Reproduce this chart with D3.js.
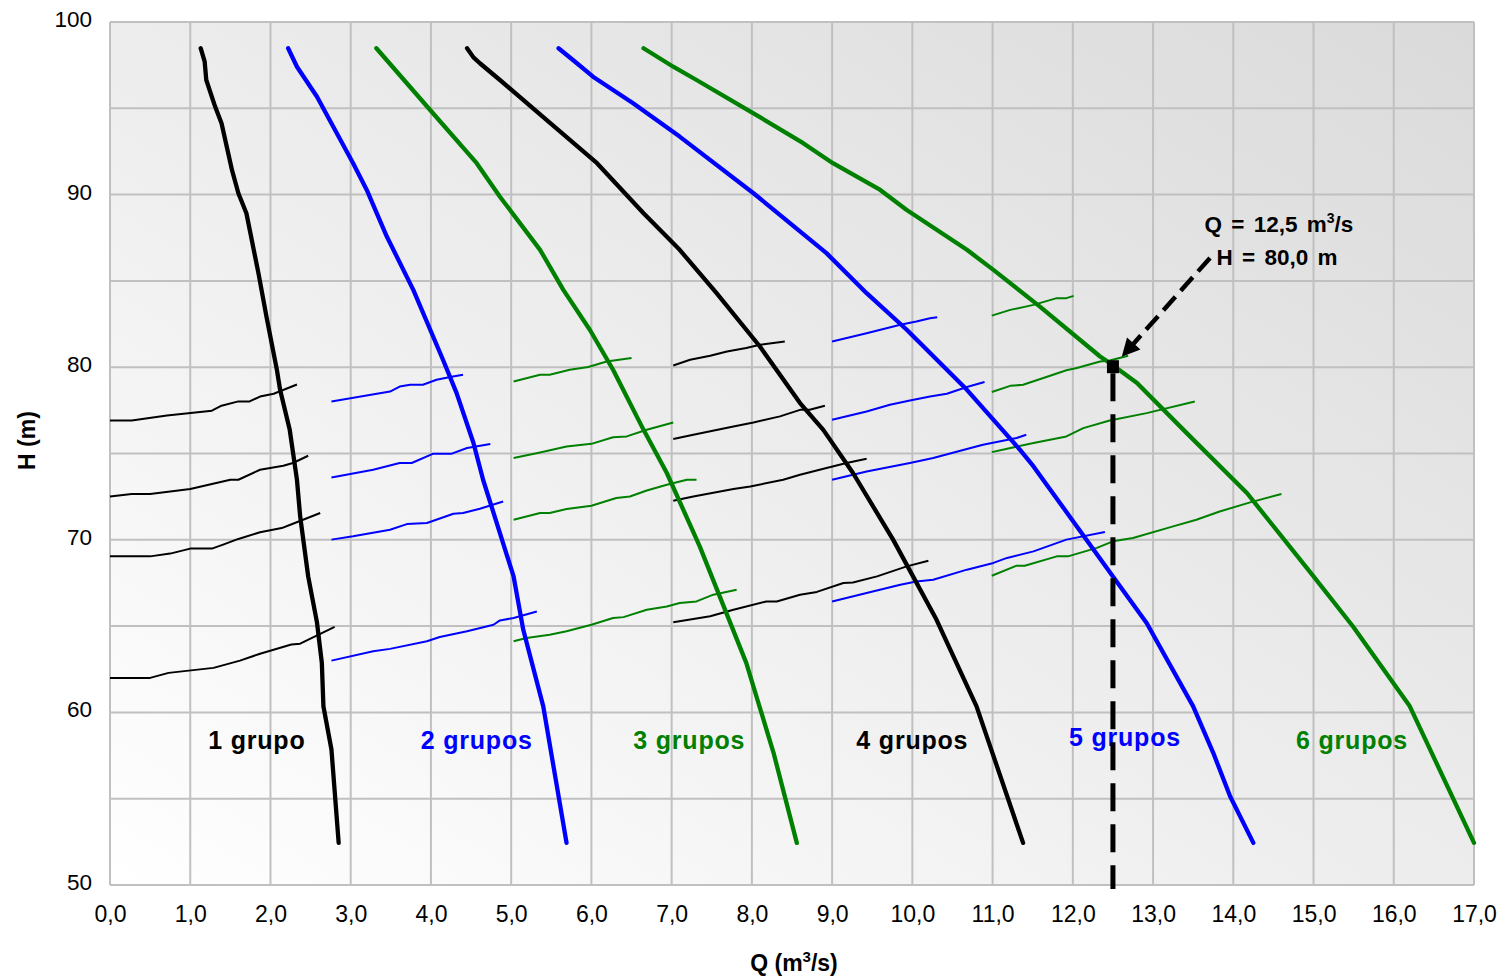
<!DOCTYPE html>
<html><head><meta charset="utf-8">
<script src="https://cdn.jsdelivr.net/npm/d3@7"></script>
<style>
body{margin:0;background:#fff;}
svg{display:block;font-family:"Liberation Sans",Arial,Helvetica,sans-serif;}
</style>
</head><body>
<svg id="chart" width="1506" height="979"></svg>
<script>
// ---------- DATA ----------
const xTicks = [0,1,2,3,4,5,6,7,8,9,10,11,12,13,14,15,16,17];
const xTickLabels = ["0,0","1,0","2,0","3,0","4,0","5,0","6,0","7,0","8,0","9,0","10,0","11,0","12,0","13,0","14,0","15,0","16,0","17,0"];
const yTicks = [50,60,70,80,90,100];
const yTickLabels = ["50","60","70","80","90","100"];
const yGridValues = [50,55,60,65,70,75,80,85,90,95,100];

const groupNames = ["1 grupo","2 grupos","3 grupos","4 grupos","5 grupos","6 grupos"];
const groupColors = ["#000000","#0000ff","#008000","#000000","#0000ff","#008000"];
const labelQ = [1.83, 4.57, 7.22, 10.0, 12.65, 15.48];
const labelH = [57.9, 57.9, 57.9, 57.9, 58.05, 57.9];

// pump curves [Q, H]
const pump1 = [[1.13,98.48],[1.18,97.70],[1.20,96.64],[1.31,95.10],[1.39,94.13],[1.52,91.43],[1.60,90.08],[1.70,88.92],[1.85,85.45],[1.95,82.93],[2.08,79.85],[2.12,78.69],[2.24,76.37],[2.33,73.48],[2.37,71.36],[2.47,67.88],[2.58,65.20],[2.64,62.88],[2.66,60.35],[2.76,57.85],[2.85,52.44]];
const pump2 = [[2.22,98.48],[2.33,97.41],[2.58,95.67],[3.03,91.82],[3.20,90.27],[3.45,87.57],[3.78,84.48],[4.15,80.43],[4.32,78.50],[4.53,75.61],[4.65,73.48],[5.03,67.88],[5.15,64.80],[5.40,60.35],[5.69,52.44]];
const pump3 = [[3.32,98.48],[3.99,94.90],[4.57,91.82],[4.86,89.88],[5.36,86.80],[5.65,84.48],[5.98,82.17],[6.27,79.85],[6.65,76.37],[6.94,73.87],[7.35,69.62],[7.93,62.87],[8.27,57.66],[8.56,52.44]];
const pump4 = [[4.45,98.48],[4.53,97.95],[4.61,97.61],[4.86,96.64],[5.44,94.33],[6.07,91.82],[6.65,88.92],[7.10,86.80],[7.56,84.29],[8.10,81.20],[8.60,77.92],[8.89,76.37],[9.26,73.87],[9.76,70.01],[10.30,65.38],[10.80,60.35],[11.38,52.44]];
const pump5 = [[5.59,98.48],[5.77,97.80],[6.02,96.83],[6.52,95.29],[7.10,93.36],[8.02,90.08],[8.93,86.61],[9.43,84.29],[9.93,82.17],[10.68,78.69],[11.34,75.22],[11.51,74.25],[12.50,67.88],[12.92,65.18],[13.50,60.35],[13.75,57.66],[13.96,55.14],[14.25,52.44]];
const pump6 = [[6.65,98.48],[7.02,97.41],[7.31,96.64],[8.02,94.71],[8.64,92.98],[9.01,91.82],[9.60,90.27],[9.93,89.11],[10.68,86.80],[11.01,85.64],[11.59,83.51],[12.34,80.62],[12.46,80.24],[12.80,79.08],[13.42,76.18],[14.17,72.71],[15.00,67.88],[15.49,64.99],[16.20,60.35],[17.0,52.44]];

// system curves (thin lines) per group, four levels each
const sys1 = [
 [[0,76.91],[0.27,76.91],[0.71,77.20],[1.27,77.48],[1.39,77.77],[1.60,78.02],[1.74,78.02],[1.87,78.30],[2.04,78.46],[2.33,79.00]],
 [[0,72.51],[0.27,72.65],[0.50,72.65],[1.00,72.94],[1.50,73.48],[1.60,73.48],[1.87,74.06],[2.16,74.29],[2.28,74.45],[2.47,74.87]],
 [[0,69.04],[0.50,69.04],[0.75,69.20],[1.00,69.49],[1.27,69.49],[1.41,69.72],[1.60,70.05],[1.87,70.44],[2.14,70.68],[2.28,70.93],[2.62,71.55]],
 [[0,62.00],[0.50,62.00],[0.73,62.29],[1.29,62.58],[1.62,63.00],[1.87,63.40],[2.26,63.93],[2.37,63.98],[2.80,64.95]]
];
const sys2 = [
 [[2.76,78.01],[3.49,78.59],[3.61,78.88],[3.74,78.98],[3.90,78.98],[4.07,79.27],[4.24,79.43],[4.40,79.56]],
 [[2.76,73.61],[3.28,74.06],[3.61,74.45],[3.76,74.45],[4.03,74.99],[4.26,74.99],[4.45,75.32],[4.74,75.55]],
 [[2.76,70.01],[3.03,70.20],[3.49,70.58],[3.70,70.91],[3.95,70.97],[4.28,71.51],[4.40,71.55],[4.61,71.80],[4.90,72.22]],
 [[2.76,63.00],[3.28,63.54],[3.49,63.68],[3.95,64.12],[4.11,64.37],[4.45,64.70],[4.78,65.08],[4.86,65.33],[5.03,65.47],[5.32,65.85]]
];
const sys3 = [
 [[5.03,79.17],[5.36,79.56],[5.48,79.56],[5.73,79.85],[5.96,80.01],[6.19,80.33],[6.50,80.53]],
 [[5.03,74.74],[5.36,75.06],[5.69,75.41],[6.00,75.56],[6.27,75.94],[6.44,75.99],[6.69,76.38],[7.02,76.80]],
 [[5.03,71.16],[5.36,71.55],[5.48,71.55],[5.69,71.78],[6.00,71.97],[6.31,72.42],[6.48,72.51],[6.69,72.86],[6.94,73.19],[7.19,73.48],[7.31,73.48]],
 [[5.03,64.12],[5.19,64.31],[5.48,64.50],[5.69,64.70],[6.00,65.08],[6.27,65.47],[6.40,65.52],[6.69,65.95],[6.94,66.14],[7.10,66.34],[7.31,66.43],[7.52,66.82],[7.81,67.11]]
];
const sys4 = [
 [[7.02,80.10],[7.23,80.43],[7.48,80.66],[7.69,80.91],[7.93,81.11],[8.10,81.30],[8.41,81.49]],
 [[7.02,75.84],[7.27,76.09],[7.77,76.57],[8.02,76.80],[8.35,77.15],[8.60,77.53],[8.72,77.53],[8.91,77.77]],
 [[7.02,72.26],[7.27,72.51],[7.77,72.94],[7.98,73.09],[8.39,73.48],[8.60,73.77],[8.93,74.16],[9.18,74.45],[9.43,74.70]],
 [[7.02,65.22],[7.27,65.41],[7.48,65.57],[7.77,65.95],[8.18,66.43],[8.31,66.43],[8.60,66.82],[8.81,66.98],[9.14,67.50],[9.26,67.53],[9.56,67.88],[9.93,68.46],[10.20,68.79]]
];
const sys5 = [
 [[9.00,81.49],[9.43,81.97],[9.85,82.46],[10.05,82.65],[10.22,82.84],[10.31,82.90]],
 [[9.00,76.95],[9.43,77.43],[9.72,77.82],[9.97,78.07],[10.22,78.30],[10.43,78.46],[10.68,78.85],[10.90,79.14]],
 [[9.00,73.48],[9.43,73.96],[9.97,74.45],[10.26,74.74],[10.68,75.26],[10.88,75.51],[11.30,75.90],[11.42,76.09]],
 [[9.00,66.43],[9.43,66.92],[9.85,67.40],[10.05,67.59],[10.26,67.69],[10.68,68.27],[11.01,68.66],[11.18,68.95],[11.51,69.33],[11.92,70.01],[12.40,70.45]]
];
const sys6 = [
 [[10.99,82.99],[11.22,83.32],[11.51,83.61],[11.80,84.00],[11.92,84.00],[12.01,84.13]],
 [[10.99,78.56],[11.22,78.92],[11.38,78.98],[11.67,79.43],[11.92,79.82],[12.05,79.95],[12.34,80.33],[12.46,80.39],[12.69,80.66]],
 [[10.99,75.08],[11.51,75.61],[11.92,75.99],[12.13,76.47],[12.46,76.91],[12.92,77.34],[13.52,78.01]],
 [[10.99,67.92],[11.30,68.50],[11.40,68.50],[11.80,69.04],[11.94,69.04],[12.30,69.53],[12.50,69.91],[12.75,70.10],[13.25,70.78],[13.54,71.16],[13.83,71.64],[14.21,72.17],[14.60,72.65]]
];

const pumpCurves = [pump1,pump2,pump3,pump4,pump5,pump6];
const systemCurves = [sys1,sys2,sys3,sys4,sys5,sys6];

const opPoint = [12.5, 80.0];
const arrowFrom = [13.71, 86.33];
const arrowTo = [12.61, 80.6];
const opLabelQ = "Q = 12,5 m";
const opLabelH = "H = 80,0 m";
const xTitle = "Q (m";
const yTitle = "H (m)";

// ---------- DRAWING ----------
(function draw(){
const svg = d3.select("#chart");
const pL = 110, pR = 1474, pT = 22, pB = 885;
const x = d3.scaleLinear().domain([0,17]).range([pL,pR]);
const y = d3.scaleLinear().domain([50,100]).range([pB,pT]);

const defs = svg.append("defs");
const grad = defs.append("linearGradient").attr("id","bg")
  .attr("x1",0).attr("y1",1).attr("x2",1).attr("y2",0);
grad.append("stop").attr("offset","0%").attr("stop-color","#ffffff");
grad.append("stop").attr("offset","100%").attr("stop-color","#dadada");

svg.append("rect").attr("x",pL).attr("y",pT)
  .attr("width",pR-pL).attr("height",pB-pT)
  .attr("fill","url(#bg)");

// grid
svg.append("g").selectAll("line").data(xTicks).join("line")
  .attr("x1",d=>x(d)).attr("x2",d=>x(d)).attr("y1",pT).attr("y2",pB)
  .attr("stroke","#c0c0c0").attr("stroke-width",2);
svg.append("g").selectAll("line").data(yGridValues).join("line")
  .attr("x1",pL).attr("x2",pR).attr("y1",d=>y(d)).attr("y2",d=>y(d))
  .attr("stroke","#c0c0c0").attr("stroke-width",2);

// axes (labels only)
const xAxis = d3.axisBottom(x).tickValues(xTicks).tickSize(0).tickPadding(0)
  .tickFormat((d,i)=>xTickLabels[i]);
const gx = svg.append("g").attr("transform",`translate(0,${pB+23})`).call(xAxis);
gx.select(".domain").remove();
gx.selectAll("text").attr("font-size",23).attr("fill","#000")
  .attr("font-family","'Liberation Sans',Arial,sans-serif").attr("dy","0.6em");

const yAxis = d3.axisLeft(y).tickValues(yTicks).tickSize(0).tickPadding(0)
  .tickFormat((d,i)=>yTickLabels[i]);
const gy = svg.append("g").attr("transform",`translate(${pL-18},0)`).call(yAxis);
gy.select(".domain").remove();
gy.selectAll("text").attr("font-size",22.5).attr("fill","#000")
  .attr("font-family","'Liberation Sans',Arial,sans-serif").attr("dy","0.2em");

// axis titles
const xt = svg.append("text").attr("x",(pL+pR)/2+2).attr("y",971)
  .attr("text-anchor","middle").attr("font-weight","bold").attr("font-size",23);
xt.append("tspan").text(xTitle);
xt.append("tspan").attr("font-size",15).attr("dy",-9).text("3");
xt.append("tspan").attr("dy",9).text("/s)");

svg.append("text").attr("transform",`translate(35,${(pT+pB)/2-13}) rotate(-90)`)
  .attr("text-anchor","middle").attr("font-weight","bold").attr("font-size",23)
  .text(yTitle);

const line = d3.line().x(d=>x(d[0])).y(d=>y(d[1]));

// system curves
systemCurves.forEach((set,i)=>{
  svg.append("g").selectAll("path").data(set).join("path")
    .attr("d",line).attr("fill","none").attr("stroke",groupColors[i])
    .attr("stroke-width",2).attr("stroke-linejoin","round");
});

// pump curves
svg.append("g").selectAll("path").data(pumpCurves).join("path")
  .attr("d",line).attr("fill","none").attr("stroke",(d,i)=>groupColors[i])
  .attr("stroke-width",4.3).attr("stroke-linejoin","round").attr("stroke-linecap","round");

// group labels
svg.append("g").selectAll("text").data(groupNames).join("text")
  .attr("x",(d,i)=>x(labelQ[i])).attr("y",(d,i)=>y(labelH[i]))
  .attr("text-anchor","middle").attr("font-weight","bold").attr("font-size",25)
  .attr("letter-spacing","0.8px")
  .attr("fill",(d,i)=>groupColors[i]).text(d=>d);

// operating point: dashed vertical line
svg.append("line")
  .attr("x1",x(opPoint[0])).attr("x2",x(opPoint[0]))
  .attr("y1",y(opPoint[1])+6).attr("y2",pB+4)
  .attr("stroke","#000").attr("stroke-width",5).attr("stroke-dasharray","28,13");
svg.append("rect")
  .attr("x",x(opPoint[0])-6).attr("y",y(opPoint[1])-7)
  .attr("width",12).attr("height",13).attr("fill","#000");

// arrow
const ax0 = x(arrowFrom[0]), ay0 = y(arrowFrom[1]);
const ax1 = x(arrowTo[0]), ay1 = y(arrowTo[1]);
const ang = Math.atan2(ay1-ay0, ax1-ax0);
const headLen = 18, headW = 9;
const bx = ax1 - headLen*Math.cos(ang), by = ay1 - headLen*Math.sin(ang);
svg.append("line").attr("x1",ax0).attr("y1",ay0).attr("x2",bx+2*Math.cos(ang)).attr("y2",by+2*Math.sin(ang))
  .attr("stroke","#000").attr("stroke-width",4.5).attr("stroke-dasharray","18,8");
svg.append("path")
  .attr("d",`M${ax1},${ay1} L${bx - headW*Math.sin(ang)},${by + headW*Math.cos(ang)} L${bx + headW*Math.sin(ang)},${by - headW*Math.cos(ang)} Z`)
  .attr("fill","#000");

// annotation text
const tq = svg.append("text").attr("x",1279).attr("y",232)
  .attr("text-anchor","middle").attr("font-weight","bold").attr("font-size",22.5)
  .attr("word-spacing","3px");
tq.append("tspan").text(opLabelQ);
tq.append("tspan").attr("font-size",14).attr("dy",-9).text("3");
tq.append("tspan").attr("dy",9).text("/s");
svg.append("text").attr("x",1277).attr("y",265)
  .attr("text-anchor","middle").attr("font-weight","bold").attr("font-size",22.5)
  .attr("word-spacing","3px").text(opLabelH);
})();
</script>
</body></html>
